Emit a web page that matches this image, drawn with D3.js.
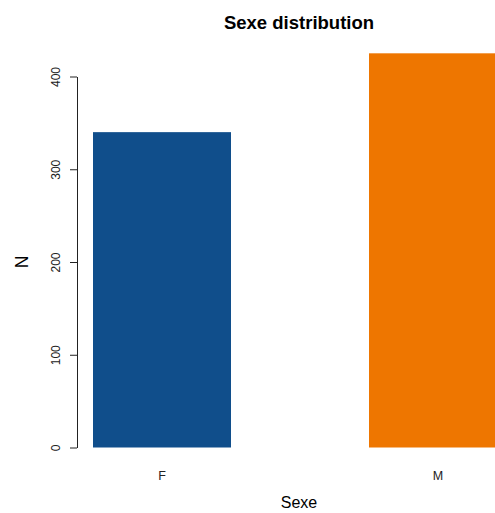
<!DOCTYPE html>
<html>
<head>
<meta charset="utf-8">
<script src="https://cdn.jsdelivr.net/npm/d3@7"></script>
<style>
  body { margin: 0; background: white; }
  svg { display: block; font-family: "Liberation Sans", Arial, Helvetica, sans-serif; }
</style>
</head>
<body>
<svg width="495" height="513"></svg>
<script>
// data
const categories = ["F", "M"]
const counts = [340, 425]
const barColors = ["#104E8B", "#EE7600"]
const yTicks = [0, 100, 200, 300, 400]

const svg = d3.select('svg')
const width = +svg.attr('width')
const height = +svg.attr('height')

// R barplot style: width 1, space 1 -> bar i spans [1 + 2i, 2 + 2i]
const xScale = d3.scaleLinear()
    .domain([1, 4])
    .range([93, 507])

const yScale = d3.scaleLinear()
    .domain([0, 400])
    .range([447.5, 76.5])

const plotCenter = 299

// bars
svg.append('g')
    .selectAll('rect')
    .data(counts)
    .enter()
    .append('rect')
    .attr('x', (d, i) => xScale(1 + 2 * i))
    .attr('width', (d, i) => xScale(2 + 2 * i) - xScale(1 + 2 * i))
    .attr('y', d => yScale(d))
    .attr('height', d => yScale(0) - yScale(d))
    .attr('fill', (d, i) => barColors[i])

// category labels
svg.append('g')
    .selectAll('text')
    .data(categories)
    .enter()
    .append('text')
    .attr('x', (d, i) => xScale(1.5 + 2 * i))
    .attr('y', 480)
    .attr('text-anchor', 'middle')
    .attr('fill', '#222')
    .style('font-size', '12.5px')
    .text(d => d)

// y axis
const yAxis = d3.axisLeft(yScale)
    .tickValues(yTicks)
    .tickSize(7)
    .tickSizeOuter(0)

const yAxisG = svg.append('g')
    .attr('transform', 'translate(77, 0)')
    .call(yAxis)

yAxisG.select('.domain').attr('stroke', '#222')
yAxisG.selectAll('.tick line').attr('stroke', '#222')
yAxisG.selectAll('.tick text')
    .attr('transform', 'rotate(-90)')
    .attr('x', 0)
    .attr('y', -17)
    .attr('dy', 0)
    .attr('text-anchor', 'middle')
    .attr('fill', '#222')
    .style('font-size', '12px')
    .style('font-family', '"Liberation Sans", Arial, sans-serif')

// title + axis labels
svg.append('text')
    .attr('x', plotCenter)
    .attr('y', 29)
    .attr('text-anchor', 'middle')
    .style('font-size', '18.5px')
    .style('font-weight', 'bold')
    .text('Sexe distribution')

svg.append('text')
    .attr('x', plotCenter)
    .attr('y', 508)
    .attr('text-anchor', 'middle')
    .style('font-size', '16px')
    .text('Sexe')

svg.append('text')
    .attr('transform', `translate(28, ${yScale(200)}) rotate(-90)`)
    .attr('text-anchor', 'middle')
    .style('font-size', '17.5px')
    .text('N')
</script>
</body>
</html>
